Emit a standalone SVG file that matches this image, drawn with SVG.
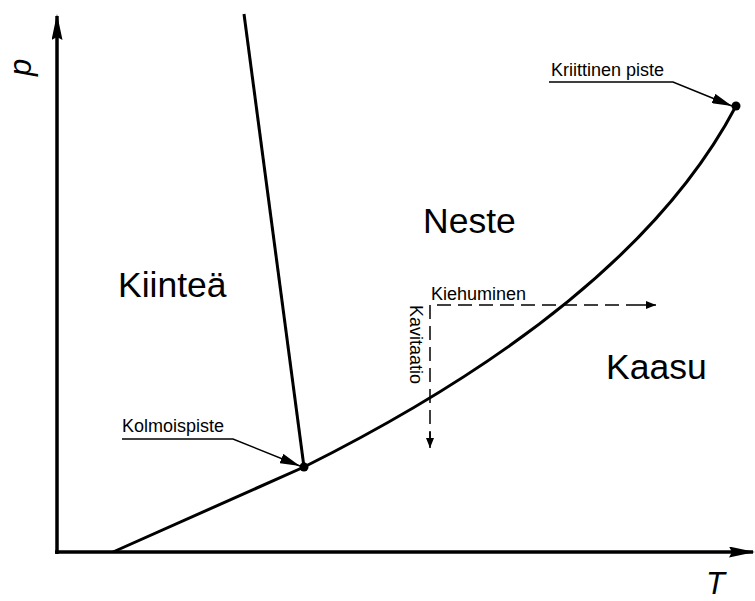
<svg xmlns="http://www.w3.org/2000/svg" width="755" height="601" viewBox="0 0 755 601">
<defs>
<style>
.ax{stroke:#000;stroke-width:3.5;fill:none}
.cv{stroke:#000;stroke-width:3;fill:none}
.ld{stroke:#000;stroke-width:1.5;fill:none}
.ds{stroke:#000;stroke-width:1.5;fill:none;stroke-dasharray:14,7}
.big{font-family:"Liberation Sans",Arial,sans-serif;font-size:35.5px;fill:#000}
.sm{font-family:"Liberation Sans",Arial,sans-serif;font-size:18px;fill:#000}
.axl{font-family:"Liberation Sans",Arial,sans-serif;font-size:31px;font-style:italic;fill:#000}
</style>
<marker id="ah" markerWidth="10" markerHeight="8" refX="10" refY="4" orient="auto" markerUnits="userSpaceOnUse">
<path d="M0,0 L10,4 L0,8 Z" fill="#000"/>
</marker>
<marker id="axh" markerWidth="26" markerHeight="11" refX="24" refY="5.5" orient="auto" markerUnits="userSpaceOnUse">
<path d="M0,0 L26,5.5 L0,11 L3,5.5 Z" fill="#000"/>
</marker>
<marker id="lh" markerWidth="20" markerHeight="10" refX="20" refY="5" orient="auto" markerUnits="userSpaceOnUse">
<path d="M0,0 L20,5 L0,10 Z" fill="#000"/>
</marker>
</defs>
<g id="axes">
<line class="ax" x1="57" y1="554" x2="57" y2="16" marker-end="url(#axh)"/>
<line class="ax" x1="55" y1="552" x2="753" y2="552" marker-end="url(#axh)"/>
<text class="axl" transform="translate(31,76) rotate(-90)">p</text>
<text class="axl" x="706" y="594">T</text>
</g>
<g id="connectors">
<path class="cv" d="M113,552 L304,467 C484,377 656,258 736,106"/>
<line class="cv" x1="244" y1="14" x2="304" y2="467"/>
<path class="ds" d="M430,445 L430,305 L654,305"/>
<line class="ld" x1="640" y1="305" x2="656" y2="305" marker-end="url(#ah)"/>
<line class="ld" x1="430" y1="432" x2="430" y2="448" marker-end="url(#ah)"/>
<path class="ld" d="M122,439 L233,439 L300,466" marker-end="url(#lh)"/>
<path class="ld" d="M549,82 L673,82 L732,106" marker-end="url(#lh)"/>
</g>
<g id="triple">
<circle cx="304" cy="467" r="4.5" fill="#000"/>
<text class="sm" x="122" y="432">Kolmoispiste</text>
</g>
<g id="critical">
<circle cx="736" cy="106" r="4.5" fill="#000"/>
<text class="sm" x="551" y="76">Kriittinen piste</text>
</g>
<g id="neste"><text class="big" x="423" y="233">Neste</text></g>
<g id="kiintea"><text class="big" x="118" y="297">Kiinteä</text></g>
<g id="kaasu"><text class="big" x="606" y="379">Kaasu</text></g>
<g id="kiehuminen"><text class="sm" x="431" y="300">Kiehuminen</text></g>
<g id="kavitaatio"><text class="sm" transform="translate(410,305) rotate(90)">Kavitaatio</text></g>
</svg>
